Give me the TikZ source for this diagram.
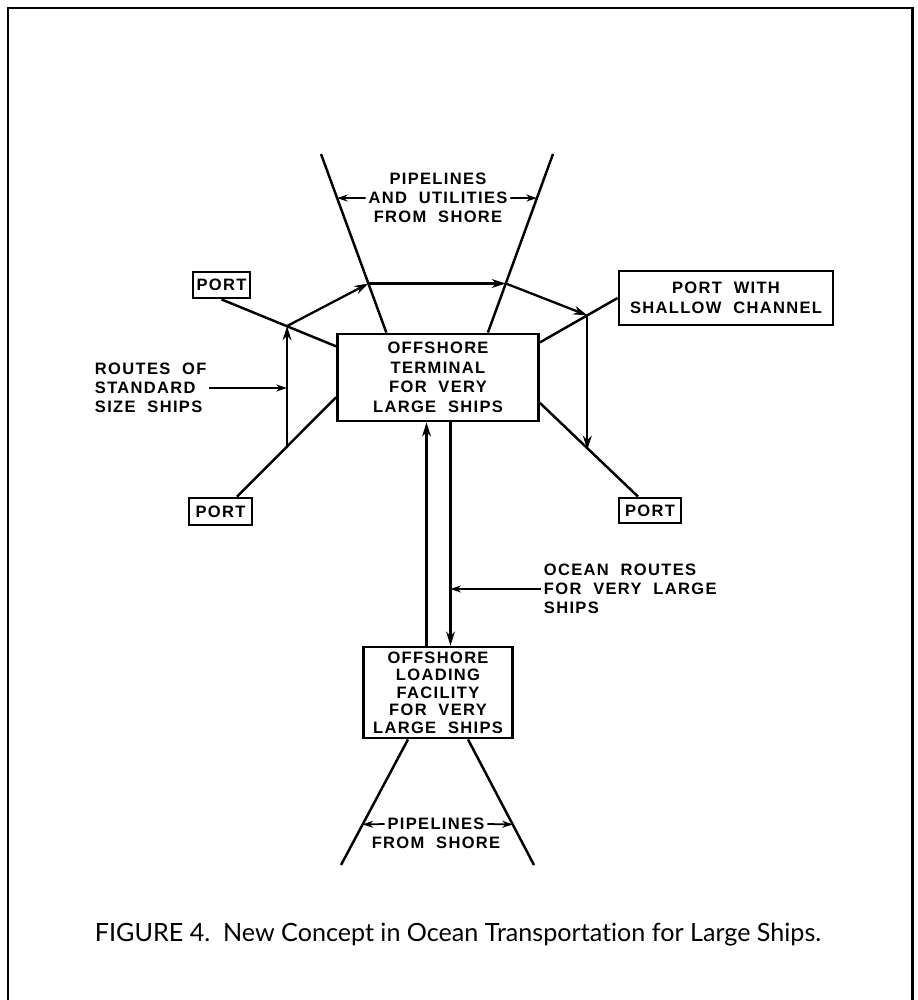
\documentclass[tikz,border=0pt]{standalone}
\usepackage{fontspec}
\newfontfamily\lettering[LetterSpace=8, WordSpace=2]{Liberation Sans}
\newfontfamily\capfont[Ligatures=NoCommon]{Lato}
\usepackage{tikz}
\usetikzlibrary{arrows.meta, calc}

\begin{document}
\begin{tikzpicture}[x=0.02cm, y=-0.02cm, >={Stealth[length=8pt, width=5pt]},
      box/.style={draw, line width=1.6pt, font=\lettering\bfseries\fontsize{9.4}{11.1}\selectfont, align=center, inner sep=0pt},
      lbl/.style={font=\lettering\bfseries\fontsize{9.4}{10.8}\selectfont, inner sep=1.5pt},
      lane/.style={line width=1.4pt},
      route/.style={->, line width=1.3pt},
      tag/.style={-{Stealth[length=6pt, width=4pt]}, line width=1pt}]

    \useasboundingbox (0,0) rectangle (917,1000);
    \draw[line width=1.7pt] (8,1010) -- (8,8) -- (912,8) -- (912,1010);

    \node[box, minimum width=4.02cm, minimum height=1.74cm] (term) at (438,377.5) {OFFSHORE\\TERMINAL\\FOR VERY\\LARGE SHIPS};
    \node[box, minimum width=1.14cm, minimum height=0.52cm] (portA) at (221.5,285) {PORT};
    \node[box, minimum width=1.26cm, minimum height=0.54cm] (portB) at (220.5,511.5) {PORT};
    \node[box, minimum width=1.24cm, minimum height=0.50cm] (portC) at (650,510.5) {PORT};
    \node[box, minimum width=4.28cm, minimum height=1.08cm] (sh) at (726,298) {PORT WITH\\SHALLOW CHANNEL};
    \node[box, minimum width=2.98cm, minimum height=1.82cm, font=\lettering\bfseries\fontsize{9.4}{10}\selectfont] (load) at (438,692.5) {OFFSHORE\\LOADING\\FACILITY\\FOR VERY\\LARGE SHIPS};

    \node[lbl, align=center] (plab) at (438,198) {PIPELINES\\AND UTILITIES\\FROM SHORE};
    \node[lbl, align=left, anchor=west] (rlab) at (92,388) {ROUTES OF\\STANDARD\\SIZE SHIPS};
    \node[lbl, align=left, anchor=west] (olab) at (541,589) {OCEAN ROUTES\\FOR VERY LARGE\\SHIPS};
    \node[lbl] (pl1) at (436,824) {PIPELINES};
    \node[lbl] (pl2) at (436,843) {FROM SHORE};

    \node[font=\capfont\fontsize{14.3}{16}\selectfont] (cap) at (458,935) {FIGURE 4.\ \ New Concept in Ocean Transportation for Large Ships.};

    % pipelines and port lines
    \coordinate (pTL) at (321,154);
    \coordinate (pTR) at (553,154);
    \coordinate (pBL) at (341,865);
    \coordinate (pBR) at (534,865);
    \draw[lane] (pTL) -- (term.139);
    \draw[lane] (pTR) -- (term.42);
    \draw[lane] ([xshift=-0.6cm]load.south) -- (pBL);
    \draw[lane] ([xshift=0.6cm]load.south) -- (pBR);
    \draw[lane] (portA.south) -- (term.163);
    \draw[lane] ([xshift=0.33cm]portB.north) -- (term.191);
    \draw[lane] (sh.west) -- (term.19);
    \draw[lane] ([xshift=-0.24cm]portC.north) -- (term.-14);

    % routes of standard size ships
    \coordinate (v1) at ($(pTL)!0.725!(term.139)$);
    \coordinate (v2) at ($(pTR)!0.725!(term.42)$);
    \coordinate (j1) at ($(portA.south)!0.57!(term.163)$);
    \coordinate (j4) at ($([xshift=0.33cm]portB.north)!0.505!(term.191)$);
    \coordinate (j2) at ($(term.19)!0.61!(sh.west)$);
    \coordinate (j3) at ($(term.-14)!0.5!([xshift=-0.24cm]portC.north)$);
    \draw[route] (j1) -- (v1);
    \draw[route] (v1) -- (v2);
    \draw[route] (v2) -- (j2);
    \draw[route] (j4) -- (j4 |- j1);
    \draw[route] (j2) -- (j2 |- j3);

    % ocean routes
    \coordinate (od) at ([xshift=0.25cm]term.south);
    \draw[route] ([xshift=-0.23cm]load.north) -- ([xshift=-0.23cm]term.south);
    \draw[route] (od) -- ([xshift=0.25cm]load.north);

    % label pointers
    \coordinate (aTL) at ($(pTL)!0.247!(term.139)$);
    \coordinate (aTR) at ($(pTR)!0.247!(term.42)$);
    \coordinate (aBL) at ($([xshift=-0.6cm]load.south)!0.677!(pBL)$);
    \coordinate (aBR) at ($([xshift=0.6cm]load.south)!0.677!(pBR)$);
    \draw[tag] (plab.west) -- (aTL);
    \draw[tag] (plab.east) -- (aTR);
    \draw[tag] (pl1.west) -- (aBL);
    \draw[tag] (pl1.east) -- (aBR);
    \draw[tag] (rlab.east) -- (rlab.east -| j1);
    \draw[tag] (olab.west) -- (olab.west -| od);

\end{tikzpicture}
\end{document}
